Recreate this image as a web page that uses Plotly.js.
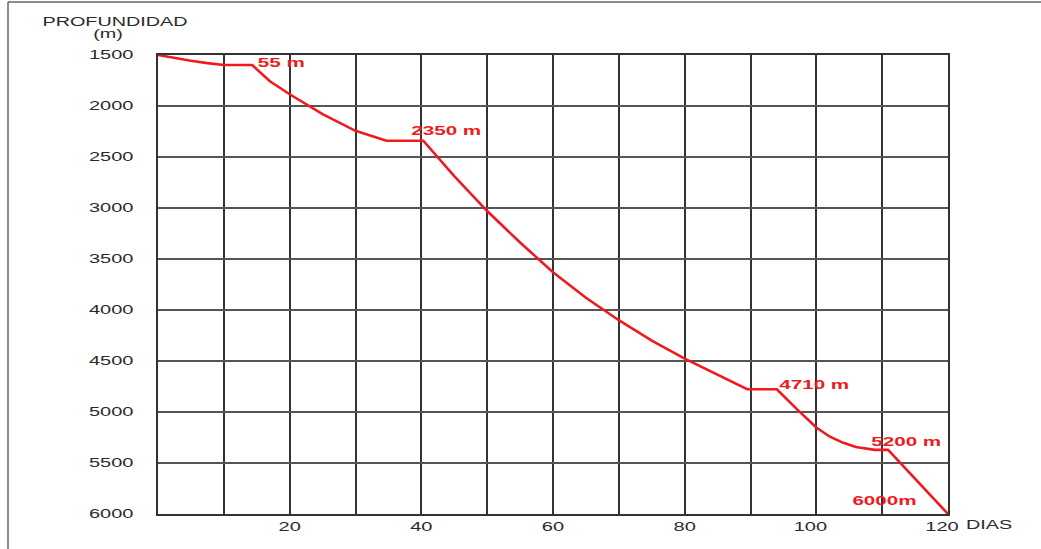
<!DOCTYPE html>
<html>
<head>
<meta charset="utf-8">
<script src="https://cdn.plot.ly/plotly-3.0.1.min.js"></script>
<style>
  html, body { margin: 0; padding: 0; background: #fff; }
  #chart { width: 1041px; height: 549px; }
</style>
</head>
<body>
<div id="chart"></div>
<script>
// Días de perforación
const dias = [0, 2.5, 5, 7.5, 10, 14.3, 17, 20, 25, 30, 34.7, 40.3, 45, 50, 55, 60, 65, 70, 75, 80, 85, 89.5, 94, 97, 100, 102, 104, 106, 108.9, 110.9, 120];
// Profundidad (m)
const profundidad = [1500, 1530, 1557, 1580, 1598, 1598, 1758, 1885, 2080, 2243, 2340, 2340, 2688, 3030, 3338, 3630, 3880, 4100, 4300, 4477, 4635, 4777, 4777, 4970, 5152, 5240, 5300, 5343, 5371, 5371, 6000];

const xTickVals = [20, 40, 60, 80, 100, 120];
const xTickText = ['20', '40', '60', '80', '100', '120'];
const yTickVals = [1500, 2000, 2500, 3000, 3500, 4000, 4500, 5000, 5500, 6000];

// Etiquetas de la curva
const etiquetas = ['55 m', '2350 m', '4710 m', '5200 m', '6000m'];
const etiquetaX = [18.7, 43.7, 99.6, 113.6, 110.4];
const etiquetaY = [1578, 2243, 4738, 5296, 5873];

const red = '#f01a1e';
const FONT = 'Liberation Sans, Arial, sans-serif';
const tickFont = {family: FONT, size: 12.5, color: '#2b2b2b'};

const annotations = etiquetas.map((t, i) => ({
  x: etiquetaX[i], y: etiquetaY[i], xref: 'x', yref: 'y',
  text: t, showarrow: false,
  xanchor: 'center', yanchor: 'middle',
  font: {family: FONT, size: 12.5, color: red, weight: 'bold'}
}));

// header / axis names positioned in pixels, converted to paper coords
const L = 158, R = 93, T = 55, B = 35, W = 1041, H = 549;
const pw = W - L - R, ph = H - T - B;
const px = v => (v - L) / pw, py = v => (H - B - v) / ph;
const hdrFont = {family: FONT, size: 12, color: '#2b2b2b'};
annotations.push(
  {x: px(115), y: py(22), xref: 'paper', yref: 'paper', text: 'PROFUNDIDAD', showarrow: false,
   xanchor: 'center', yanchor: 'middle', font: hdrFont},
  {x: px(108), y: py(34), xref: 'paper', yref: 'paper', text: '(m)', showarrow: false,
   xanchor: 'center', yanchor: 'middle', font: hdrFont},
  {x: px(989), y: py(525), xref: 'paper', yref: 'paper', text: 'DIAS', showarrow: false,
   xanchor: 'center', yanchor: 'middle', font: hdrFont}
);

const trace = {
  x: dias, y: profundidad, type: 'scatter', mode: 'lines',
  line: {color: red, width: 2.6}, hoverinfo: 'skip', cliponaxis: false
};

const layout = {
  width: W, height: H,
  margin: {l: L, r: R, t: T, b: B},
  paper_bgcolor: '#fff', plot_bgcolor: '#fff',
  showlegend: false,
  xaxis: {
    range: [0, 120], tickvals: xTickVals, ticktext: xTickText,
    showgrid: true, gridcolor: '#333', gridwidth: 2,
    minor: {dtick: 10, tick0: 0, showgrid: true, gridcolor: '#333', gridwidth: 2},
    showline: true, linecolor: '#333', linewidth: 2, mirror: true,
    zeroline: false, ticks: '', tickfont: tickFont, ticklabelstandoff: 0, fixedrange: true
  },
  yaxis: {
    range: [6000, 1500], tickvals: yTickVals,
    showgrid: true, gridcolor: '#555', gridwidth: 1.5,
    showline: true, linecolor: '#333', linewidth: 2, mirror: true,
    zeroline: false, ticks: '', tickfont: tickFont, ticklabelstandoff: 20, fixedrange: true
  },
  annotations: annotations,
  shapes: [
    {type: 'line', xref: 'paper', yref: 'paper', x0: px(8), x1: px(W),
     y0: py(2), y1: py(2), line: {color: '#666', width: 1.5}},
    {type: 'line', xref: 'paper', yref: 'paper', x0: px(8), x1: px(8),
     y0: py(2), y1: py(H), line: {color: '#666', width: 1.5}}
  ]
};

// widen the glyphs horizontally like the reference lettering
function stretch(selector, k) {
  document.querySelectorAll(selector).forEach(t => {
    const w = t.getComputedTextLength();
    if (w > 0) {
      t.setAttribute('textLength', (w * k).toFixed(1));
      t.setAttribute('lengthAdjust', 'spacingAndGlyphs');
    }
  });
}

Plotly.newPlot('chart', [trace], layout, {displayModeBar: false, staticPlot: true}).then(() => {
  stretch('#chart .xtick text, #chart .ytick text', 1.6);
  stretch('#chart .annotation-text', 1.65);
  // three-digit day labels sit slightly left of their gridline in the reference
  document.querySelectorAll('#chart .xtick text').forEach(t => {
    if (t.textContent.length === 3) t.setAttribute('dx', '-6');
  });
});
</script>
</body>
</html>
